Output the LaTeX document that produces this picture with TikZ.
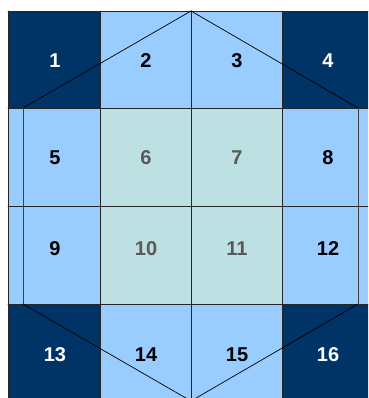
\documentclass[tikz,border=0pt]{standalone}
\usepackage{fontspec}
\setmainfont{Liberation Sans}
\definecolor{cornerblue}{HTML}{003366}
\definecolor{edgeblue}{HTML}{99CCFF}
\definecolor{centerteal}{HTML}{BDE0E2}
\definecolor{numgray}{HTML}{595959}
\tikzset{
  num/.style={font=\fontsize{20}{24}\selectfont\bfseries},
  gridline/.style={line width=0.9pt, draw=black!85},
  hexline/.style={line width=0.7pt, draw=black}
}
\begin{document}
\begin{tikzpicture}[x=1pt,y=-1pt,line cap=round]
  \useasboundingbox (0,0) rectangle (368,398);
  \clip (0,0) rectangle (368,398);
  % cells
  \fill[cornerblue] (8,11) rectangle (100,108);
  \fill[edgeblue] (100,11) rectangle (282,108);
  \fill[cornerblue] (282,11) rectangle (373,108);
  \fill[edgeblue] (8,108) rectangle (100,304);
  \fill[centerteal] (100,108) rectangle (282,304);
  \fill[edgeblue] (282,108) rectangle (373,304);
  \fill[cornerblue] (8,304) rectangle (100,401);
  \fill[edgeblue] (100,304) rectangle (282,401);
  \fill[cornerblue] (282,304) rectangle (373,401);
  % grid
  \draw[gridline] (8,11) -- (373,11);
  \draw[gridline] (8,108) -- (373,108);
  \draw[gridline] (8,206) -- (373,206);
  \draw[gridline] (8,304) -- (373,304);
  \draw[gridline] (8,11) -- (8,401);
  \draw[gridline] (100,11) -- (100,401);
  \draw[gridline] (191,11) -- (191,401);
  \draw[gridline] (282,11) -- (282,401);
  % hexagon
  \coordinate (top) at (191,11);
  \coordinate (ul) at (23,108);
  \coordinate (ll) at (23,304);
  \coordinate (bot) at (191,401);
  \coordinate (lr) at (358,304);
  \coordinate (ur) at (358,108);
  \draw[hexline] (top) -- (ul);
  \draw[hexline, line width=1pt, draw=black!75] (ul) -- (ll);
  \draw[hexline] (ll) -- (bot);
  \draw[hexline] (bot) -- (lr);
  \draw[hexline, line width=1pt, draw=black!75] (lr) -- (ur);
  \draw[hexline] (ur) -- (top);
  % numbers
  \node[num, white] (n1) at (55,61) {1};
  \node[num] (n2) at (146,61) {2};
  \node[num] (n3) at (237,61) {3};
  \node[num, white] (n4) at (328,61) {4};
  \node[num] (n5) at (55,158) {5};
  \node[num, numgray] (n6) at (146,158) {6};
  \node[num, numgray] (n7) at (237,158) {7};
  \node[num] (n8) at (328,158) {8};
  \node[num] (n9) at (55,249) {9};
  \node[num, numgray] (n10) at (146,249) {10};
  \node[num, numgray] (n11) at (237,249) {11};
  \node[num] (n12) at (328,249) {12};
  \node[num, white] (n13) at (55,355) {13};
  \node[num] (n14) at (146,355) {14};
  \node[num] (n15) at (237,355) {15};
  \node[num, white] (n16) at (328,355) {16};
\end{tikzpicture}
\end{document}
